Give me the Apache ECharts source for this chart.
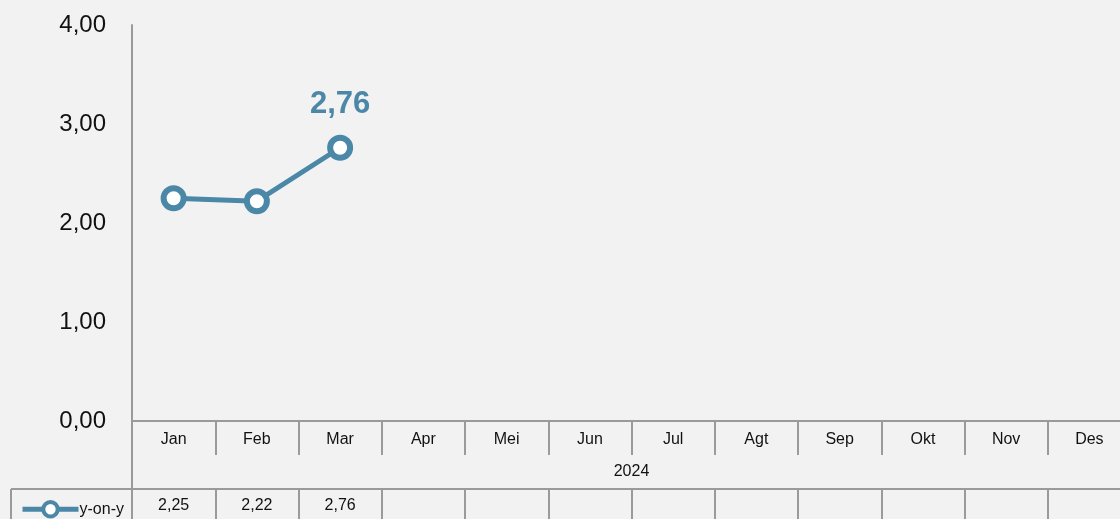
<!DOCTYPE html>
<html>
<head>
<meta charset="utf-8">
<script src="https://cdn.jsdelivr.net/npm/echarts@6/dist/echarts.min.js"></script>
<style>
  html, body { margin: 0; padding: 0; background: #f2f2f2; overflow: hidden; }
  #chart { width: 1131px; height: 519px; }
</style>
</head>
<body>
<div id="chart"></div>
<script>
const months = ['Jan', 'Feb', 'Mar', 'Apr', 'Mei', 'Jun', 'Jul', 'Agt', 'Sep', 'Okt', 'Nov', 'Des']
const yearLabel = ['2024']
const seriesName = 'y-on-y'
const yoy = [2.25, 2.22, 2.76, null, null, null, null, null, null, null, null, null]
const yTicks = { min: 0, max: 4, interval: 1 }

const font = "'Liberation Sans Narrow', 'Liberation Sans', Arial, sans-serif"
const blue = '#4b87a7'
const gray = '#9a9a9a'

const fmt = (v) => v.toFixed(2).replace('.', ',')
const lastIdx = yoy.reduce((acc, v, i) => (v != null ? i : acc), -1)
const tableRow = yoy.map((v) => (v == null ? '' : fmt(v)))

const myChart = echarts.init(document.getElementById('chart'))
const option = {
  backgroundColor: '#f2f2f2',
  animation: false,
  grid: { left: 132, top: 25, right: 0, bottom: 98 },
  legend: {
    left: 15,
    top: 495,
    itemWidth: 56,
    itemHeight: 18,
    itemGap: 0,
    lineStyle: { width: 5 },
    itemStyle: { borderWidth: 4 },
    textStyle: { fontFamily: font, fontSize: 16, color: '#111', padding: [0, 0, 0, -4] },
    data: [seriesName]
  },
  xAxis: [
    {
      type: 'category',
      data: months,
      boundaryGap: true,
      axisLine: { show: true, lineStyle: { color: gray, width: 2 } },
      axisTick: { show: true, length: 34, lineStyle: { color: gray, width: 2 } },
      axisLabel: { fontFamily: font, fontSize: 16, color: '#111', margin: 11 }
    },
    {
      type: 'category',
      data: yearLabel,
      position: 'bottom',
      offset: 34,
      axisLine: { show: false },
      axisTick: { show: false },
      axisLabel: { fontFamily: font, fontSize: 16, color: '#111', margin: 9 }
    },
    {
      type: 'category',
      data: tableRow,
      position: 'bottom',
      offset: 68,
      axisLine: { show: true, lineStyle: { color: gray, width: 2 } },
      axisTick: { show: true, length: 32, lineStyle: { color: gray, width: 2 } },
      axisLabel: { fontFamily: font, fontSize: 16, color: '#111', margin: 9 }
    }
  ],
  yAxis: {
    type: 'value',
    min: yTicks.min,
    max: yTicks.max,
    interval: yTicks.interval,
    axisLine: { show: true, lineStyle: { color: gray, width: 2 } },
    axisTick: { show: false },
    splitLine: { show: false },
    axisLabel: {
      fontFamily: font,
      fontSize: 24,
      color: '#111',
      margin: 26,
      formatter: (value) => fmt(value)
    }
  },
  graphic: [
    // y axis line runs down through the table
    { type: 'line', shape: { x1: 132, y1: 421, x2: 132, y2: 519 }, style: { stroke: gray, lineWidth: 2 } },
    // legend cell of the data table
    { type: 'line', shape: { x1: 11, y1: 489, x2: 132, y2: 489 }, style: { stroke: gray, lineWidth: 2 } },
    { type: 'line', shape: { x1: 11, y1: 489, x2: 11, y2: 519 }, style: { stroke: gray, lineWidth: 2 } }
  ],
  series: [
    {
      name: seriesName,
      type: 'line',
      data: yoy.map((v, i) => ({
        value: v,
        label: {
          show: i === lastIdx,
          position: 'top',
          distance: 15,
          formatter: (p) => fmt(p.value),
          fontFamily: font,
          fontSize: 31,
          fontWeight: 'bold',
          color: blue
        }
      })),
      symbol: 'circle',
      symbolSize: 20,
      showAllSymbol: true,
      lineStyle: { color: blue, width: 5 },
      itemStyle: { color: '#ffffff', borderColor: blue, borderWidth: 6 }
    }
  ]
}
myChart.setOption(option)
window.addEventListener('resize', () => myChart && myChart.resize())
</script>
</body>
</html>
